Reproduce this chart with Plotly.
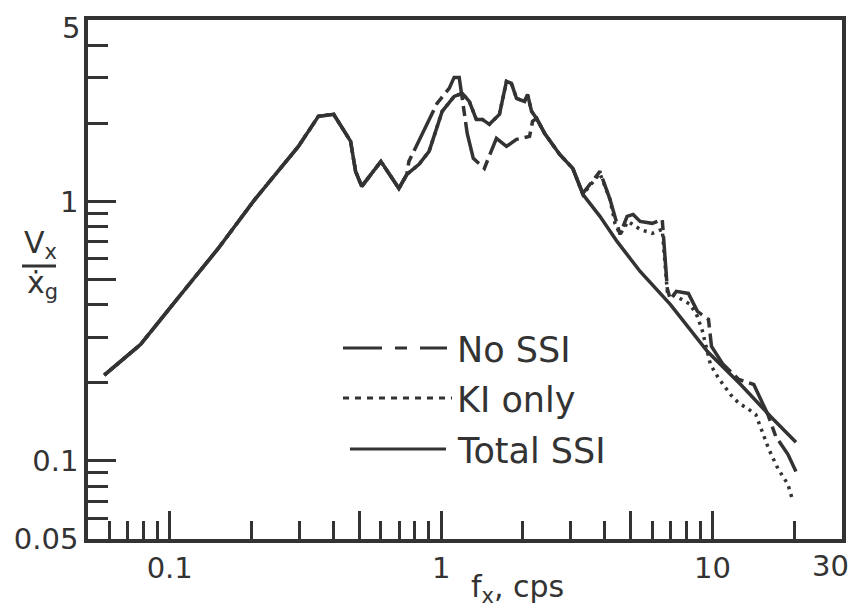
import plotly.graph_objects as go

# ---- data (frequency in cps, response ratio Vx / x_g-dot) ----
f_common = [0.0574, 0.0781, 0.107, 0.151, 0.206, 0.298, 0.353, 0.402, 0.445, 0.464,
            0.484, 0.510, 0.600, 0.699, 0.748]
v_common = [0.214, 0.281, 0.423, 0.659, 1.018, 1.629, 2.126, 2.164, 1.828, 1.703,
            1.305, 1.142, 1.426, 1.122, 1.271]

f_total = [0.829, 0.903, 1.009, 1.117, 1.196, 1.270, 1.348, 1.418, 1.506, 1.640, 1.682,
           1.741, 1.816, 1.896, 2.030, 2.082, 2.154, 2.248, 2.407, 2.735, 3.056, 3.329,
           3.848, 4.448, 5.412, 6.989, 9.583, 12.70, 16.40, 20.30]
v_total = [1.389, 1.558, 2.223, 2.538, 2.607, 2.428, 2.070, 2.070, 1.981, 2.164, 2.428,
           2.900, 2.849, 2.494, 2.428, 2.584, 2.223, 2.088, 1.828, 1.517, 1.340, 1.064,
           0.876, 0.701, 0.537, 0.401, 0.264, 0.197, 0.148, 0.118]

f_nossi = [0.761, 0.966, 1.071, 1.117, 1.166, 1.248, 1.314, 1.443, 1.532, 1.599, 1.741,
           1.896, 2.118, 2.173, 2.248, 2.407, 2.735, 3.056, 3.329, 3.848, 4.190, 4.373,
           4.564, 4.845, 5.098, 5.412, 5.995, 6.528, 6.813, 6.989, 7.356, 8.149, 8.799,
           9.421, 9.665, 9.915, 10.89, 12.49, 14.19, 15.99, 17.12, 18.96, 20.30]
v_nossi = [1.426, 2.386, 2.726, 3.005, 3.005, 1.828, 1.464, 1.340, 1.558, 1.749, 1.629,
           1.734, 1.780, 2.034, 2.088, 1.828, 1.517, 1.340, 1.073, 1.305, 1.018, 0.860,
           0.746, 0.876, 0.891, 0.837, 0.823, 0.852, 0.462, 0.419, 0.450, 0.442, 0.377,
           0.357, 0.351, 0.276, 0.237, 0.206, 0.197, 0.151, 0.124, 0.106, 0.0911]

f_ki = [0.829, 0.903, 1.009, 1.117, 1.196, 1.270, 1.348, 1.418, 1.506, 1.640, 1.682,
        1.741, 1.816, 1.896, 2.030, 2.082, 2.154, 2.248, 2.407, 2.735, 3.056, 3.329,
        3.848, 4.190, 4.373, 4.564, 4.886, 5.412, 5.995, 6.528, 6.813, 7.610, 8.288,
        8.799, 9.183, 9.830, 10.53, 11.66, 12.49, 13.48, 14.43, 15.32, 16.12, 17.41,
        18.96, 19.79]
v_ki = [1.389, 1.558, 2.223, 2.538, 2.607, 2.428, 2.070, 2.070, 1.981, 2.164, 2.428,
        2.900, 2.849, 2.494, 2.428, 2.584, 2.223, 2.088, 1.828, 1.517, 1.340, 1.064,
        1.282, 1.018, 0.823, 0.746, 0.837, 0.780, 0.753, 0.780, 0.450, 0.423, 0.401,
        0.360, 0.316, 0.235, 0.208, 0.180, 0.167, 0.159, 0.151, 0.128, 0.111, 0.0935,
        0.0812, 0.0698]

x_major = [0.1, 0.5, 1, 5, 10]
x_major_text = ["0.1", "", "1", "", "10"]
x_end_label = "30"
x_minor = [0.06, 0.07, 0.08, 0.09, 0.2, 0.3, 0.4, 0.6, 0.7, 0.8, 0.9,
           2, 3, 4, 6, 7, 8, 9, 20]
y_major = [0.05, 0.1, 0.5, 1, 5]
y_major_text = ["0.05", "0.1", "", "1", ""]
y_top_label = "5"
y_minor = [0.06, 0.07, 0.08, 0.09, 0.2, 0.3, 0.4, 0.6, 0.7, 0.8, 0.9, 2, 3, 4]

legend_names = ["No SSI", "KI only", "Total SSI"]

INK = "#333333"
FONT = "DejaVu Sans"

# page body has an 8px margin: the figure is drawn from (8, 8) of the window
OFF = 8
WIN_W, WIN_H = 857, 613
PL, PR, PT, PB = 88, 842, 20, 539          # plot frame in window pixels
W, H = WIN_W - OFF, WIN_H - OFF
ML, MT = PL - OFF, PT - OFF
MR, MB = W - (PR - OFF), H - (PB - OFF)
PW, PH = PR - PL, PB - PT


def px(x):
    return (x - PL) / PW


def py(y):
    return (PB - y) / PH


fig = go.Figure()

fig.add_trace(go.Scatter(x=f_common + f_ki, y=v_common + v_ki, mode="lines",
                         name=legend_names[1],
                         line=dict(color=INK, width=3.5, dash="3px,5px")))
fig.add_trace(go.Scatter(x=f_common + f_nossi, y=v_common + v_nossi, mode="lines",
                         name=legend_names[0],
                         line=dict(color=INK, width=3.5, dash="45px,6px,10px,6px")))
fig.add_trace(go.Scatter(x=f_common + f_total, y=v_common + v_total, mode="lines",
                         name=legend_names[2],
                         line=dict(color=INK, width=3.5)))

axis_common = dict(
    type="log", showgrid=False, zeroline=False, automargin=False,
    showline=True, mirror=True, linewidth=3.5, linecolor=INK,
    ticks="inside", tickcolor=INK, tickwidth=3,
    tickfont=dict(family=FONT, size=29, color=INK),
    tickmode="array", ticklabeloverflow="allow",
)

fig.update_xaxes(**axis_common, range=[-1.30103, 1.47712],
                 tickvals=x_major, ticktext=x_major_text, ticklen=28,
                 ticklabelstandoff=0,
                 minor=dict(tickmode="array", tickvals=x_minor, ticks="inside",
                            ticklen=18, tickwidth=3, tickcolor=INK))
fig.update_yaxes(**axis_common, range=[-1.301031, 0.698971],
                 tickvals=y_major, ticktext=y_major_text, ticklen=28,
                 ticklabelstandoff=0,
                 minor=dict(tickmode="array", tickvals=y_minor, ticks="inside",
                            ticklen=20, tickwidth=3, tickcolor=INK))

shapes = []
annotations = []

# end labels of both axes, placed as in the reference
annotations.append(dict(xref="paper", yref="paper", x=px(830), y=py(566),
                        xanchor="center", yanchor="middle", showarrow=False,
                        text=x_end_label, font=dict(family=FONT, size=29, color=INK)))
annotations.append(dict(xref="paper", yref="paper", x=px(82), y=py(28),
                        xanchor="right", yanchor="middle", showarrow=False,
                        text=y_top_label, font=dict(family=FONT, size=29, color=INK)))

# custom legend
legend_rows = [
    (348, 343, 447, "39px,13px,12px,13px"),
    (398, 343, 452, "6px,6px"),
    (449, 350, 446, "solid"),
]
for (ry, x0, x1, dash), name in zip(legend_rows, legend_names):
    shapes.append(dict(type="line", xref="paper", yref="paper",
                       x0=px(x0), x1=px(x1), y0=py(ry), y1=py(ry),
                       line=dict(color=INK, width=3, dash=dash)))
    annotations.append(dict(xref="paper", yref="paper", x=px(455), y=py(ry + 2),
                            xanchor="left", yanchor="middle", showarrow=False,
                            text=name, font=dict(family=FONT, size=35, color=INK)))

# y axis title: Vx over x-dot g
annotations.append(dict(xref="paper", yref="paper", x=px(40), y=py(245),
                        xanchor="center", yanchor="middle", showarrow=False,
                        text="V<sub>x</sub>", font=dict(family=FONT, size=30, color=INK)))
shapes.append(dict(type="line", xref="paper", yref="paper",
                   x0=px(22), x1=px(56), y0=py(266), y1=py(266),
                   line=dict(color=INK, width=3)))
annotations.append(dict(xref="paper", yref="paper", x=px(42), y=py(284),
                        xanchor="center", yanchor="middle", showarrow=False,
                        text="\u1e8b<sub>g</sub>", font=dict(family=FONT, size=30, color=INK)))

# x axis title
annotations.append(dict(xref="paper", yref="paper", x=px(517), y=py(588),
                        xanchor="center", yanchor="middle", showarrow=False,
                        text="f<sub>x</sub>, cps", font=dict(family=FONT, size=30, color=INK)))

fig.update_layout(
    width=W, height=H,
    margin=dict(l=ML, r=MR, t=MT, b=MB, autoexpand=False),
    paper_bgcolor="white", plot_bgcolor="white",
    showlegend=False,
    shapes=shapes, annotations=annotations,
)

fig.write_html("out.html")
